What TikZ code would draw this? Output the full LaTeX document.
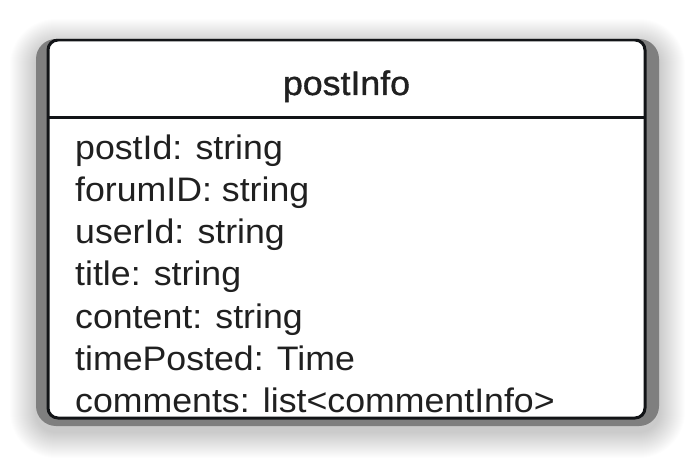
\documentclass[tikz,border=0pt]{standalone}
\usepackage{fontspec}
\setmainfont{Liberation Sans}
\newfontfamily\attrfont[FakeStretch=1.05]{Liberation Sans}
\newfontfamily\titlefont[FakeStretch=1.05, BoldFont={Liberation Sans},
  BoldFeatures={FakeBold=1.2}]{Liberation Sans}
\definecolor{framegray}{HTML}{7F7F7F}
\definecolor{inkline}{HTML}{121417}
\definecolor{inktext}{HTML}{202020}
\tikzset{
  attr/.style={anchor=base west, inner sep=0pt, text=inktext,
    font=\attrfont\fontsize{34}{40}\selectfont},
  classtitle/.style={anchor=base, inner sep=0pt, text=inktext,
    font=\titlefont\bfseries\fontsize{34}{40}\selectfont},
  rule/.style={draw=inkline, line width=3pt},
}
\begin{document}
\begin{tikzpicture}[x=1pt,y=-1pt]
  \useasboundingbox (0,0) rectangle (696,462);
  \fill[white] (0,0) rectangle (696,462);
  % soft drop shadow, built from faint stacked layers
  \foreach \i in {1,...,26}{
    \fill[black, opacity=0.008, rounded corners=20pt+\i pt]
      (36-\i,45-\i) rectangle (659+\i,432+\i);
  }
  % gray frame
  \fill[framegray, rounded corners=20pt] (36,39) rectangle (659,426);
  % class box, clipped to the frame
  \begin{scope}
    \clip[rounded corners=20pt] (36,39) rectangle (659,426);
    \draw[rule, fill=white, rounded corners=10pt] (48,40) rectangle (645,418);
    \draw[rule] (48,118) -- (645,118);
  \end{scope}
  % class name
  \node[classtitle] (title) at (346.5,95) {postInfo};
  % attributes
  \node[attr] (a1) at (75,160) {postId: string};
  \node[attr] (a2) at (75,202) {forumID: string};
  \node[attr] (a3) at (75,244) {userId: string};
  \node[attr] (a4) at (75,286) {title: string};
  \node[attr] (a5) at (75,328) {content: string};
  \node[attr] (a6) at (75,370) {timePosted: Time};
  \node[attr] (a7) at (75,412) {comments: list<commentInfo>};
\end{tikzpicture}
\end{document}
